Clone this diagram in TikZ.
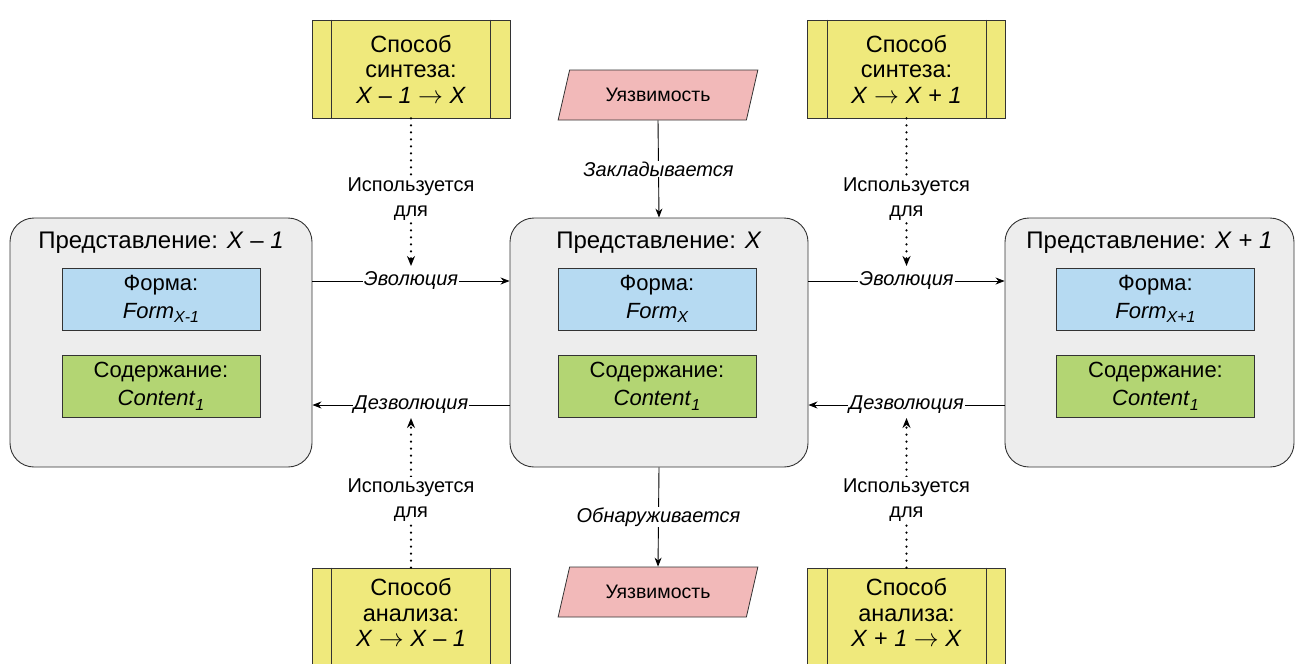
\documentclass[tikz,border=0pt]{standalone}
\usepackage{fontspec}
\setmainfont{Liberation Sans}
\usetikzlibrary{shapes.geometric,arrows.meta,calc}
\definecolor{grayF}{HTML}{EDEDED}
\definecolor{blueF}{HTML}{B6DAF2}
\definecolor{greenF}{HTML}{B3D573}
\definecolor{yellowF}{HTML}{EFE97C}
\definecolor{pinkF}{HTML}{F2B9B9}
\definecolor{lineC}{HTML}{333333}
\newcommand\fsz[2]{\fontsize{#1}{#2}\selectfont}
\newcommand\sub[1]{\raisebox{-0.4ex}{\fsz{16}{16}\itshape #1}}
\newcommand\arr{$\rightarrow$}
\begin{document}
\begin{tikzpicture}[x=1pt,y=-1pt,
  repbox/.style={draw=lineC, fill=grayF, rounded corners=24pt, line width=0.9pt},
  titletext/.style={font=\fsz{24}{28}, inner sep=0pt},
  formbox/.style={draw=lineC, fill=blueF, minimum width=198pt, minimum height=62pt, align=center, font=\fsz{22}{28}, inner sep=0pt, line width=0.8pt},
  contbox/.style={formbox, fill=greenF},
  method/.style={draw=lineC, fill=yellowF, minimum width=198pt, minimum height=98pt, align=center, font=\fsz{23.5}{25.5}, inner sep=0pt, line width=0.8pt},
  vuln/.style={trapezium, trapezium left angle=63.4, trapezium right angle=116.6, trapezium stretches=true, draw=lineC, fill=pinkF, minimum width=200pt, minimum height=50pt, font=\fsz{19.5}{22}, inner sep=0pt, line width=0.8pt},
  elabel/.style={fill=white, font=\fsz{20}{25}\itshape, inner sep=1pt},
  ulabel/.style={fill=white, font=\fsz{20}{25}, align=center, inner sep=1.5pt},
  conn/.style={draw=black, line width=0.9pt, -{Stealth[length=9pt,width=7pt]}},
  dconn/.style={draw=black, line width=2.4pt, line cap=round, dash pattern=on 0pt off 7pt, -{Stealth[length=10pt,width=8pt]}}
]
\useasboundingbox (0,0) rectangle (1296,664);

% representation boxes
\node[repbox, minimum width=302pt, minimum height=249pt] (L) at (161,342.5) {};
\node[repbox, minimum width=298pt, minimum height=249pt] (C) at (659,342.5) {};
\node[repbox, minimum width=289pt, minimum height=249pt] (R) at (1149.5,342.5) {};

\node[titletext] (tL) at (161,243) {Представление: \textit{X} – \textit{1}};
\node[titletext] (tC) at (659,243) {Представление: \textit{X}};
\node[titletext] (tR) at (1149.5,243) {Представление: \textit{X} + \textit{1}};

\node[formbox] (fL) at (161,299) {Форма:\\\textit{Form}\sub{X-1}};
\node[formbox] (fC) at (657,299) {Форма:\\\textit{Form}\sub{X}};
\node[formbox] (fR) at (1155.5,299) {Форма:\\\textit{Form}\sub{X+1}};

\node[contbox] (cL) at (161,386) {Содержание:\\\textit{Content}\sub{1}};
\node[contbox] (cC) at (657,386) {Содержание:\\\textit{Content}\sub{1}};
\node[contbox] (cR) at (1155.5,386) {Содержание:\\\textit{Content}\sub{1}};

% methods
\node[method, text depth=0pt] (T1) at (411,69) {Способ\\синтеза:\\\textit{X} – \textit{1} \arr{} \textit{X}};
\node[method, text depth=0pt] (T2) at (906.5,69) {Способ\\синтеза:\\\textit{X} \arr{} \textit{X} + \textit{1}};
\node[method, text depth=9pt] (B1) at (411,617) {Способ\\анализа:\\\textit{X} \arr{} \textit{X} – \textit{1}};
\node[method, text depth=9pt] (B2) at (906.5,617) {Способ\\анализа:\\\textit{X} + \textit{1} \arr{} \textit{X}};
\foreach \n in {T1,T2,B1,B2}{
  \draw[lineC, line width=0.8pt] ($(\n.north west)+(20,0)$) -- ($(\n.south west)+(20,0)$);
  \draw[lineC, line width=0.8pt] ($(\n.north east)+(-20,0)$) -- ($(\n.south east)+(-20,0)$);
}

% vulnerabilities
\node[vuln] (V1) at (658,95) {Уязвимость};
\node[vuln] (V2) at (658,592) {Уязвимость};

% helper levels
\coordinate (evo) at (0,281);
\coordinate (dev) at (0,405);
\coordinate (evoTop) at (0,266);
\coordinate (devBot) at (0,418);

% evolution / devolution
\draw[conn] (L.east |- evo) -- node[elabel]{Эволюция} (C.west |- evo);
\draw[conn] (C.east |- evo) -- node[elabel]{Эволюция} (R.west |- evo);
\draw[conn] (C.west |- dev) -- node[elabel]{Дезволюция} (L.east |- dev);
\draw[conn] (R.west |- dev) -- node[elabel]{Дезволюция} (C.east |- dev);

% vulnerability arrows
\draw[conn] (V1.south) -- node[elabel]{Закладывается} (C.north);
\draw[conn] (C.south) -- node[elabel]{Обнаруживается} (V2.north);

% used for
\draw[dconn] (T1.south) -- node[ulabel, pos=0.55]{Используется\\для} (T1.south |- evoTop);
\draw[dconn] (T2.south) -- node[ulabel, pos=0.55]{Используется\\для} (T2.south |- evoTop);
\draw[dconn] (B1.north) -- node[ulabel, pos=0.45]{Используется\\для} (B1.north |- devBot);
\draw[dconn] (B2.north) -- node[ulabel, pos=0.45]{Используется\\для} (B2.north |- devBot);
\end{tikzpicture}
\end{document}
